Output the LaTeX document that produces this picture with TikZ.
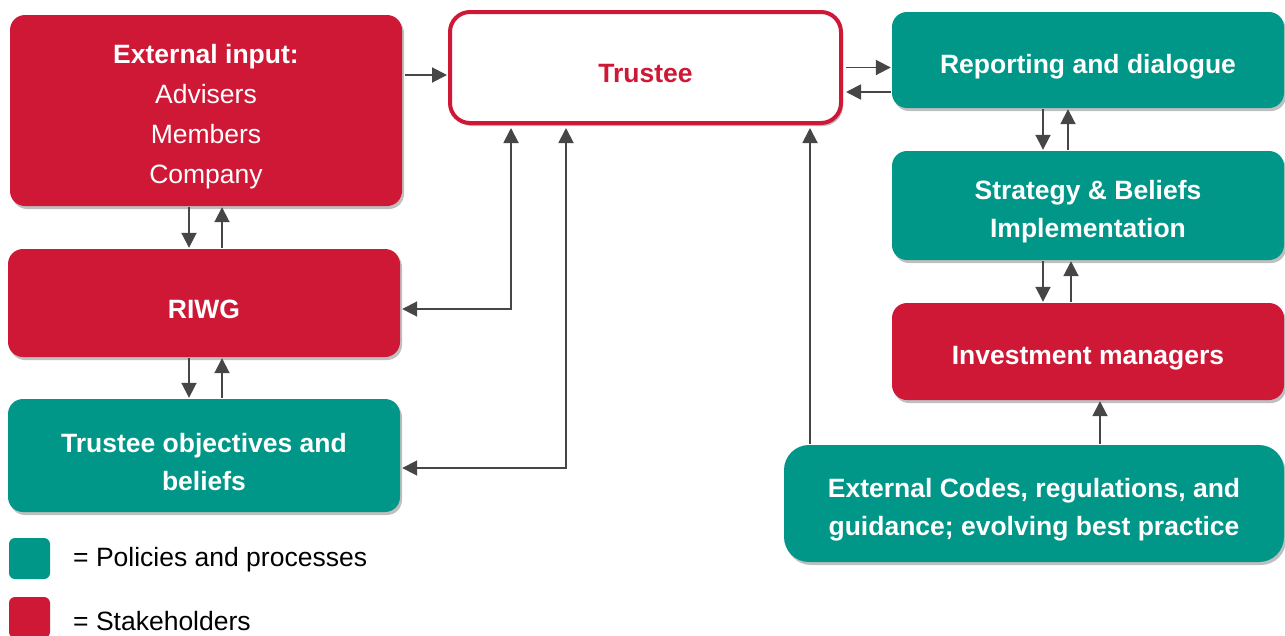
\documentclass[tikz,border=0pt]{standalone}
\usepackage{fontspec}
\setmainfont{Liberation Sans}
\usetikzlibrary{arrows.meta,shadows}
\definecolor{myred}{RGB}{206,24,54}
\definecolor{myteal}{RGB}{0,150,136}
\definecolor{arrgray}{RGB}{70,70,70}
\begin{document}
\begin{tikzpicture}[x=1pt,y=-1pt,
  box/.style={rounded corners=15pt, inner sep=0pt,
    drop shadow={shadow xshift=2pt, shadow yshift=-3pt, opacity=0.25, fill=black}},
  redbox/.style={box, fill=myred},
  tealbox/.style={box, fill=myteal},
  txt/.style={align=center, text=white, inner sep=0pt, font=\fontsize{26.5}{40}\selectfont\bfseries},
  arr/.style={draw=arrgray, line width=1.9pt, -{Triangle[length=15pt,width=15pt]}, shorten >=1pt, shorten <=1pt},
  arrb/.style={draw=arrgray, line width=1.9pt, {Triangle[length=15pt,width=15pt]}-{Triangle[length=15pt,width=15pt]}, shorten >=1pt, shorten <=1pt},
  legsq/.style={rounded corners=6pt, minimum width=41pt, minimum height=41pt, inner sep=0pt},
  legtxt/.style={anchor=west, inner sep=0pt, font=\fontsize{26.5}{30}\selectfont}
]
\useasboundingbox (0,0) rectangle (1285,635);

\node[redbox, minimum width=392pt, minimum height=191pt] (ext) at (206,110.5) {};
\node[txt] (extT) at ([yshift=-6.5pt]ext.center)
  {External input:\\{\mdseries Advisers}\\{\mdseries Members}\\{\mdseries Company}};
\node[rounded corners=20pt, draw=myred, line width=4pt, fill=white, minimum width=391pt, minimum height=111pt,
  drop shadow={shadow xshift=2pt, shadow yshift=-3pt, opacity=0.25, fill=black}] (trustee) at (645.5,67.5) {};
\node[txt, text=myred] (trusteeT) at ([yshift=-6.5pt]trustee.center) {Trustee};
\node[tealbox, minimum width=392pt, minimum height=96pt] (rep) at (1088,60) {};
\node[txt] (repT) at ([yshift=-6.5pt]rep.center) {Reporting and dialogue};
\node[tealbox, minimum width=392pt, minimum height=109pt] (strat) at (1088,205.5) {};
\node[txt, font=\fontsize{26.5}{38}\selectfont\bfseries] (stratT) at ([yshift=-6.5pt]strat.center) {Strategy \& Beliefs\\Implementation};
\node[redbox, minimum width=392pt, minimum height=97pt] (inv) at (1088,351.5) {};
\node[txt] (invT) at ([yshift=-6.5pt]inv.center) {Investment managers};
\node[tealbox, rounded corners=25pt, minimum width=500pt, minimum height=117pt] (codes) at (1034,503.5) {};
\node[txt, font=\fontsize{26.5}{38}\selectfont\bfseries] (codesT) at ([yshift=-6.5pt]codes.center)
  {External Codes, regulations, and\\guidance; evolving best practice};
\node[redbox, minimum width=392pt, minimum height=108pt] (riwg) at (204,303) {};
\node[txt] (riwgT) at ([yshift=-6.5pt]riwg.center) {RIWG};
\node[tealbox, minimum width=392pt, minimum height=113pt] (obj) at (204,455.5) {};
\node[txt, font=\fontsize{26.5}{38}\selectfont\bfseries] (objT) at ([yshift=-6.5pt]obj.center) {Trustee objectives and\\beliefs};

\node[legsq, fill=myteal] (legA) at (29.5,558.5) {};
\node[legtxt] (legAt) at (73,560) {= Policies and processes};
\node[legsq, fill=myred] (legB) at (29.5,617.5) {};
\node[legtxt] (legBt) at (73,621) {= Stakeholders};

% arrows
\draw[arr] ([yshift=35.5pt,xshift=2pt]ext.east) -- ([yshift=35.5pt]ext.east -| trustee.west);
\draw[arr] ([xshift=2pt]trustee.east) -- (trustee.east -| rep.west);
\draw[arr] ([yshift=-24.5pt]trustee.east -| rep.west) -- ([yshift=-24.5pt,xshift=2pt]trustee.east);

\draw[arr] ([xshift=-17pt]ext.south) -- ([xshift=-17pt]ext.south |- riwg.north);
\draw[arr] ([xshift=16pt]ext.south |- riwg.north) -- ([xshift=16pt]ext.south);
\draw[arr] ([xshift=-15pt]riwg.south) -- ([xshift=-15pt]riwg.south |- obj.north);
\draw[arr] ([xshift=18pt]riwg.south |- obj.north) -- ([xshift=18pt]riwg.south);

\draw[arrb] ([xshift=-134.5pt,yshift=-2pt]trustee.south) |- ([yshift=-6pt,xshift=1pt]riwg.east);
\draw[arrb] ([xshift=-79.5pt,yshift=-2pt]trustee.south) |- ([yshift=-12.5pt,xshift=1pt]obj.east);
\draw[arr] ([xshift=-224pt]codes.north) -- ([xshift=-224pt,yshift=-2pt]codes.north |- trustee.south);

\draw[arr] ([xshift=-45pt]rep.south) -- ([xshift=-45pt]rep.south |- strat.north);
\draw[arr] ([xshift=-20pt]rep.south |- strat.north) -- ([xshift=-20pt]rep.south);
\draw[arr] ([xshift=-45pt]strat.south) -- ([xshift=-45pt]strat.south |- inv.north);
\draw[arr] ([xshift=-17pt]strat.south |- inv.north) -- ([xshift=-17pt]strat.south);
\draw[arr] ([xshift=66pt]codes.north) -- ([xshift=66pt]codes.north |- inv.south);
\end{tikzpicture}
\end{document}
